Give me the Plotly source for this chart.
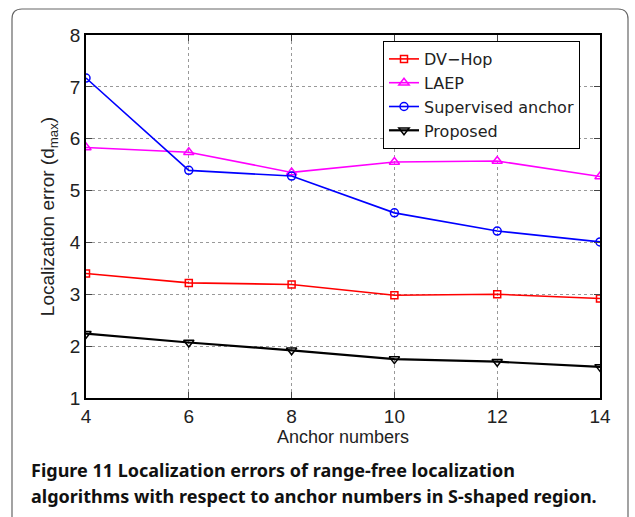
import plotly.graph_objects as go

anchors = [4, 6, 8, 10, 12, 14]
dv_hop = [3.40, 3.22, 3.19, 2.98, 3.00, 2.92]
laep = [5.83, 5.74, 5.35, 5.55, 5.57, 5.27]
supervised = [7.17, 5.39, 5.28, 4.57, 4.22, 4.01]
proposed = [2.24, 2.07, 1.92, 1.75, 1.70, 1.60]

W, H = 635, 517
L, R, T, B = 86, 35, 35, 119
pw, ph = W - L - R, H - T - B

def px(x):
    return (x - L) / pw

def py(y):
    return (H - B - y) / ph

fig = go.Figure()
series = [
    ("DV\u2212Hop", dv_hop, "#ff0000", "square-open", 7),
    ("LAEP", laep, "#ff00ff", "triangle-up-open", 9),
    ("Supervised anchor", supervised, "#0000ff", "circle-open", 8),
    ("Proposed", proposed, "#000000", "triangle-down-open", 9),
]
for name, vals, col, sym, sz in series:
    fig.add_trace(go.Scatter(
        x=anchors, y=vals, name=name, mode="lines+markers",
        line=dict(color=col, width=1.6 if col != "#000000" else 2.2),
        marker=dict(symbol=sym, size=sz, color=col, line=dict(color=col, width=1.5)),
    ))

axis_font = dict(family="Liberation Sans, Arial, sans-serif", size=19, color="#222")
title_font = dict(family="Liberation Sans, Arial, sans-serif", size=18, color="#222")
fig.update_xaxes(
    range=[4, 14], tickvals=[4, 6, 8, 10, 12, 14], ticks="inside", ticklen=6,
    mirror="ticks", showline=True, linecolor="black", linewidth=1.5,
    showgrid=True, gridcolor="#999", griddash="dot", gridwidth=1,
    tickfont=axis_font, zeroline=False,
    title=dict(text="Anchor numbers", font=title_font, standoff=0),
)
fig.update_yaxes(
    range=[1, 8], tickvals=[1, 2, 3, 4, 5, 6, 7, 8], ticks="inside", ticklen=6,
    mirror="ticks", showline=True, linecolor="black", linewidth=1.5,
    showgrid=True, gridcolor="#999", griddash="dot", gridwidth=1,
    tickfont=axis_font, zeroline=False,
    title=dict(text="Localization error (d<sub>max</sub>)", font=axis_font, standoff=10),
)

# outer rounded frame
x0, x1 = px(12), px(628)
y0, y1 = py(9), py(530)
rx, ry = 10 / pw, 10 / ph
path = (f"M {x0+rx},{y0} L {x1-rx},{y0} Q {x1},{y0} {x1},{y0-ry} "
        f"L {x1},{y1} L {x0},{y1} L {x0},{y0-ry} Q {x0},{y0} {x0+rx},{y0} Z")
fig.add_shape(type="path", path=path, xref="paper", yref="paper",
              line=dict(color="#666", width=1.2), layer="below")

cap_font = dict(family="Noto Sans, Open Sans, sans-serif", size=18, color="#111")
fig.add_annotation(text="<b>Figure 11</b> <b>Localization errors of range-free localization</b>",
                   x=px(29), y=py(470), xref="paper", yref="paper",
                   xanchor="left", yanchor="middle", showarrow=False, font=cap_font)
fig.add_annotation(text="<b>algorithms with respect to anchor numbers in S-shaped region.</b>",
                   x=px(29), y=py(496), xref="paper", yref="paper",
                   xanchor="left", yanchor="middle", showarrow=False, font=cap_font)

fig.update_layout(
    width=W, height=H, margin=dict(l=L, r=R, t=T, b=B),
    paper_bgcolor="white", plot_bgcolor="white",
    showlegend=True,
    legend=dict(x=px(383), y=py(41), xanchor="left", yanchor="top",
                bgcolor="white", bordercolor="black", borderwidth=1,
                font=dict(family="DejaVu Sans, Liberation Sans, sans-serif", size=16, color="#222"),
                tracegroupgap=0, itemwidth=30),
)

fig.write_html("out.html")
